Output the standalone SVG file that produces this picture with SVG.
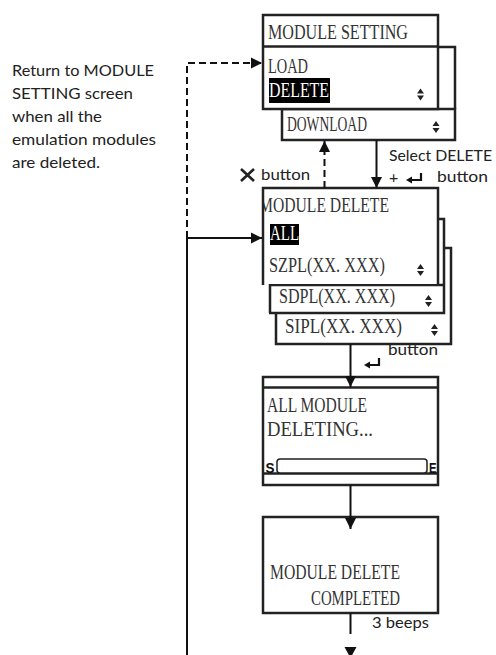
<svg xmlns="http://www.w3.org/2000/svg" xmlns:xlink="http://www.w3.org/1999/xlink" width="496" height="655" viewBox="0 0 496 655">
<style>
.box{fill:#fff;stroke:#222;stroke-width:2.5}
.ln{fill:none;stroke:#222;stroke-width:2.5}
.lcd{font-family:"Liberation Serif","Times New Roman",serif;font-size:21px;fill:#333}
.inv{fill:#fff}
.note{font-family:Lato,"Open Sans","Liberation Sans",sans-serif;font-size:16px;fill:#222}
.con{fill:none;stroke:#111;stroke-width:2}
.dash{stroke-dasharray:7 4}
.hl{fill:#000}
.se{font-family:"Liberation Sans",Arial,sans-serif;font-weight:bold;font-size:15px;fill:#111}
</style>
<defs>
<marker id="ah" markerWidth="12" markerHeight="12" refX="11" refY="6" orient="auto" markerUnits="userSpaceOnUse" viewBox="0 0 12 12">
<path d="M0,0.5 L11,6 L0,11.5 z" fill="#111"/>
</marker>
<g id="ud"><polygon points="-3.5,-1 3.5,-1 0,-6" fill="#222"/><polygon points="-3.5,1 3.5,1 0,6" fill="#222"/></g>
<g id="ret"><path d="M15,-7 V0 H4" fill="none" stroke="#111" stroke-width="2.2"/><polygon points="0,0 6,-3.5 6,3.5" fill="#111"/></g>
<clipPath id="cpdel"><rect x="264" y="189" width="173" height="95"/></clipPath>
</defs>

<g id="note-return">
<text class="note" x="12" y="76" textLength="142" lengthAdjust="spacingAndGlyphs">Return to MODULE</text>
<text class="note" x="12" y="99" textLength="121" lengthAdjust="spacingAndGlyphs">SETTING screen</text>
<text class="note" x="12" y="122" textLength="90" lengthAdjust="spacingAndGlyphs">when all the</text>
<text class="note" x="12" y="145" textLength="144" lengthAdjust="spacingAndGlyphs">emulation modules</text>
<text class="note" x="12" y="168" textLength="88" lengthAdjust="spacingAndGlyphs">are deleted.</text>
</g>

<g id="module-setting">
<path class="ln" d="M438,47 H455 V109"/>
<rect class="box" x="282" y="109" width="173" height="31"/>
<rect class="box" x="263" y="15" width="175" height="94"/>
<line class="ln" x1="263" y1="46.5" x2="438" y2="46.5"/>
<text class="lcd" x="268" y="39" textLength="140" lengthAdjust="spacingAndGlyphs">MODULE SETTING</text>
<text class="lcd" x="268" y="73" textLength="40" lengthAdjust="spacingAndGlyphs">LOAD</text>
<rect class="hl" x="269" y="78" width="61" height="25"/>
<text class="lcd inv" x="269" y="97" textLength="60" lengthAdjust="spacingAndGlyphs">DELETE</text>
<use href="#ud" x="420.5" y="94.5"/>
<text class="lcd" x="287" y="131" textLength="80" lengthAdjust="spacingAndGlyphs">DOWNLOAD</text>
<use href="#ud" x="436" y="127"/>
</g>

<g id="module-delete">
<path class="ln" d="M444,248 H451 V344 H276 V313"/>
<path class="ln" d="M438,219 H444 V313 H269"/>
<path class="ln" d="M270,313 V285 H444"/>
<rect x="264" y="189" width="173" height="95" fill="#fff"/>
<path class="ln" d="M263,285 V188 H438 V284"/>
<text class="lcd" x="259" y="212" textLength="130" lengthAdjust="spacingAndGlyphs" clip-path="url(#cpdel)">MODULE DELETE</text>
<rect class="hl" x="270" y="224" width="29" height="21"/>
<text class="lcd inv" x="270" y="240" textLength="29" lengthAdjust="spacingAndGlyphs">ALL</text>
<text class="lcd" x="269" y="272" textLength="116" lengthAdjust="spacingAndGlyphs">SZPL(XX. XXX)</text>
<use href="#ud" x="420.5" y="270"/>
<text class="lcd" x="279" y="303" textLength="116" lengthAdjust="spacingAndGlyphs">SDPL(XX. XXX)</text>
<use href="#ud" x="428.5" y="301"/>
<text class="lcd" x="285" y="333" textLength="117" lengthAdjust="spacingAndGlyphs">SIPL(XX. XXX)</text>
<use href="#ud" x="434.5" y="330"/>
</g>

<g id="deleting">
<rect class="box" x="263" y="377" width="175" height="108"/>
<line class="ln" x1="263" y1="387.5" x2="438" y2="387.5"/>
<line class="ln" x1="263" y1="473.5" x2="438" y2="473.5"/>
<text class="lcd" x="267" y="412" textLength="100" lengthAdjust="spacingAndGlyphs">ALL MODULE</text>
<text class="lcd" x="267" y="436" textLength="106" lengthAdjust="spacingAndGlyphs">DELETING...</text>
<rect x="277" y="459" width="150" height="14" rx="3" fill="#fff" stroke="#222" stroke-width="1.5"/>
<text class="se" x="265.5" y="473" textLength="9" lengthAdjust="spacingAndGlyphs">S</text>
<text class="se" x="429" y="473" textLength="7.5" lengthAdjust="spacingAndGlyphs">E</text>
</g>

<g id="completed">
<rect class="box" x="263" y="517" width="175" height="96"/>
<text class="lcd" x="270" y="579" textLength="130" lengthAdjust="spacingAndGlyphs">MODULE DELETE</text>
<text class="lcd" x="311" y="605" textLength="89" lengthAdjust="spacingAndGlyphs">COMPLETED</text>
</g>

<g id="connectors">
<path class="con dash" d="M187,238 V63 H262" marker-end="url(#ah)"/>
<path class="con" d="M187,655 V238 H262" marker-end="url(#ah)"/>
<path class="con dash" d="M324.5,188 V141" marker-end="url(#ah)"/>
<path class="con" d="M376.5,140 V188" marker-end="url(#ah)"/>
<path class="con" d="M350.5,344 V387" marker-end="url(#ah)"/>
<path class="con" d="M350.5,485 V529" marker-end="url(#ah)"/>
<path class="con" d="M350.5,613 V634"/>
<polygon points="344.5,647 356.5,647 350.5,658" fill="#111"/>
</g>

<g id="labels">
<text class="note" x="389" y="161" textLength="103" lengthAdjust="spacingAndGlyphs">Select DELETE</text>
<text class="note" x="389" y="183">+</text>
<use href="#ret" x="406" y="180"/>
<text class="note" x="437" y="182" textLength="51" lengthAdjust="spacingAndGlyphs">button</text>
<path d="M241,169 L254,181 M254,169 L241,181" stroke="#222" stroke-width="2.6" fill="none"/>
<text class="note" x="261" y="180" textLength="49" lengthAdjust="spacingAndGlyphs">button</text>
<text class="note" x="388" y="355" textLength="50" lengthAdjust="spacingAndGlyphs">button</text>
<use href="#ret" x="364" y="365"/>
<text class="note" x="372" y="628" textLength="57" lengthAdjust="spacingAndGlyphs">3 beeps</text>
</g>
</svg>
